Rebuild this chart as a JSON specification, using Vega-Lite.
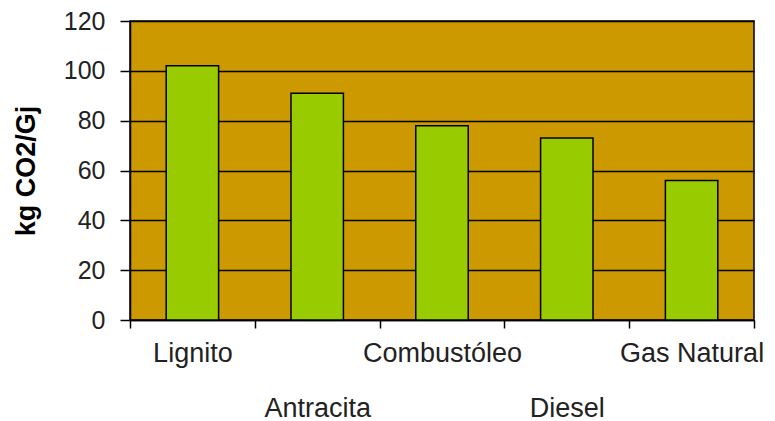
{
  "$schema": "https://vega.github.io/schema/vega-lite/v6.json",
  "width": 624,
  "height": 299,
  "autosize": "none",
  "padding": {"left": 130, "top": 21, "right": 21, "bottom": 101},
  "background": "white",
  "config": {
    "view": {"fill": "#CC9900", "stroke": "#000", "strokeWidth": 1.5},
    "font": "Liberation Sans"
  },
  "data": {
    "values": [
      {"combustible": "Lignito", "valor": 102},
      {"combustible": "Antracita", "valor": 91},
      {"combustible": "Combustóleo", "valor": 78},
      {"combustible": "Diesel", "valor": 73},
      {"combustible": "Gas Natural", "valor": 56}
    ]
  },
  "mark": {"type": "bar", "width": {"band": 0.42}, "fill": "#99CC00", "stroke": "#000", "strokeWidth": 1.5},
  "encoding": {
    "x": {
      "field": "combustible",
      "type": "nominal",
      "sort": null,
      "scale": {"paddingInner": 0, "paddingOuter": 0},
      "axis": {
        "title": null,
        "labelAngle": 0,
        "tickBand": "extent",
        "domainColor": "#000",
        "domainWidth": 1.5,
        "tickColor": "#000",
        "tickWidth": 1.5,
        "tickSize": 8,
        "labelFontSize": 27,
        "labelColor": "#222",
        "labelPadding": 12,
        "labelLineHeight": 55,
        "labelBaseline": "top",
        "labelOverlap": false,
        "labelExpr": "datum.value == 'Antracita' || datum.value == 'Diesel' ? ['', datum.label] : datum.label"
      }
    },
    "y": {
      "field": "valor",
      "type": "quantitative",
      "scale": {"domain": [0, 120]},
      "axis": {
        "values": [0, 20, 40, 60, 80, 100, 120],
        "grid": true,
        "gridColor": "#000",
        "gridWidth": 1.5,
        "gridOpacity": 1,
        "domainColor": "#000",
        "domainWidth": 1.5,
        "tickColor": "#000",
        "tickWidth": 1.5,
        "tickSize": 10,
        "labelFontSize": 25,
        "labelColor": "#222",
        "labelPadding": 15,
        "title": "kg CO2/Gj",
        "titleFontSize": 27,
        "titleFontWeight": "bold",
        "titleColor": "#000",
        "titleX": -104,
        "titleY": 149.5,
        "titleAlign": "center",
        "titleBaseline": "middle",
        "titleAngle": -90
      }
    }
  }
}
